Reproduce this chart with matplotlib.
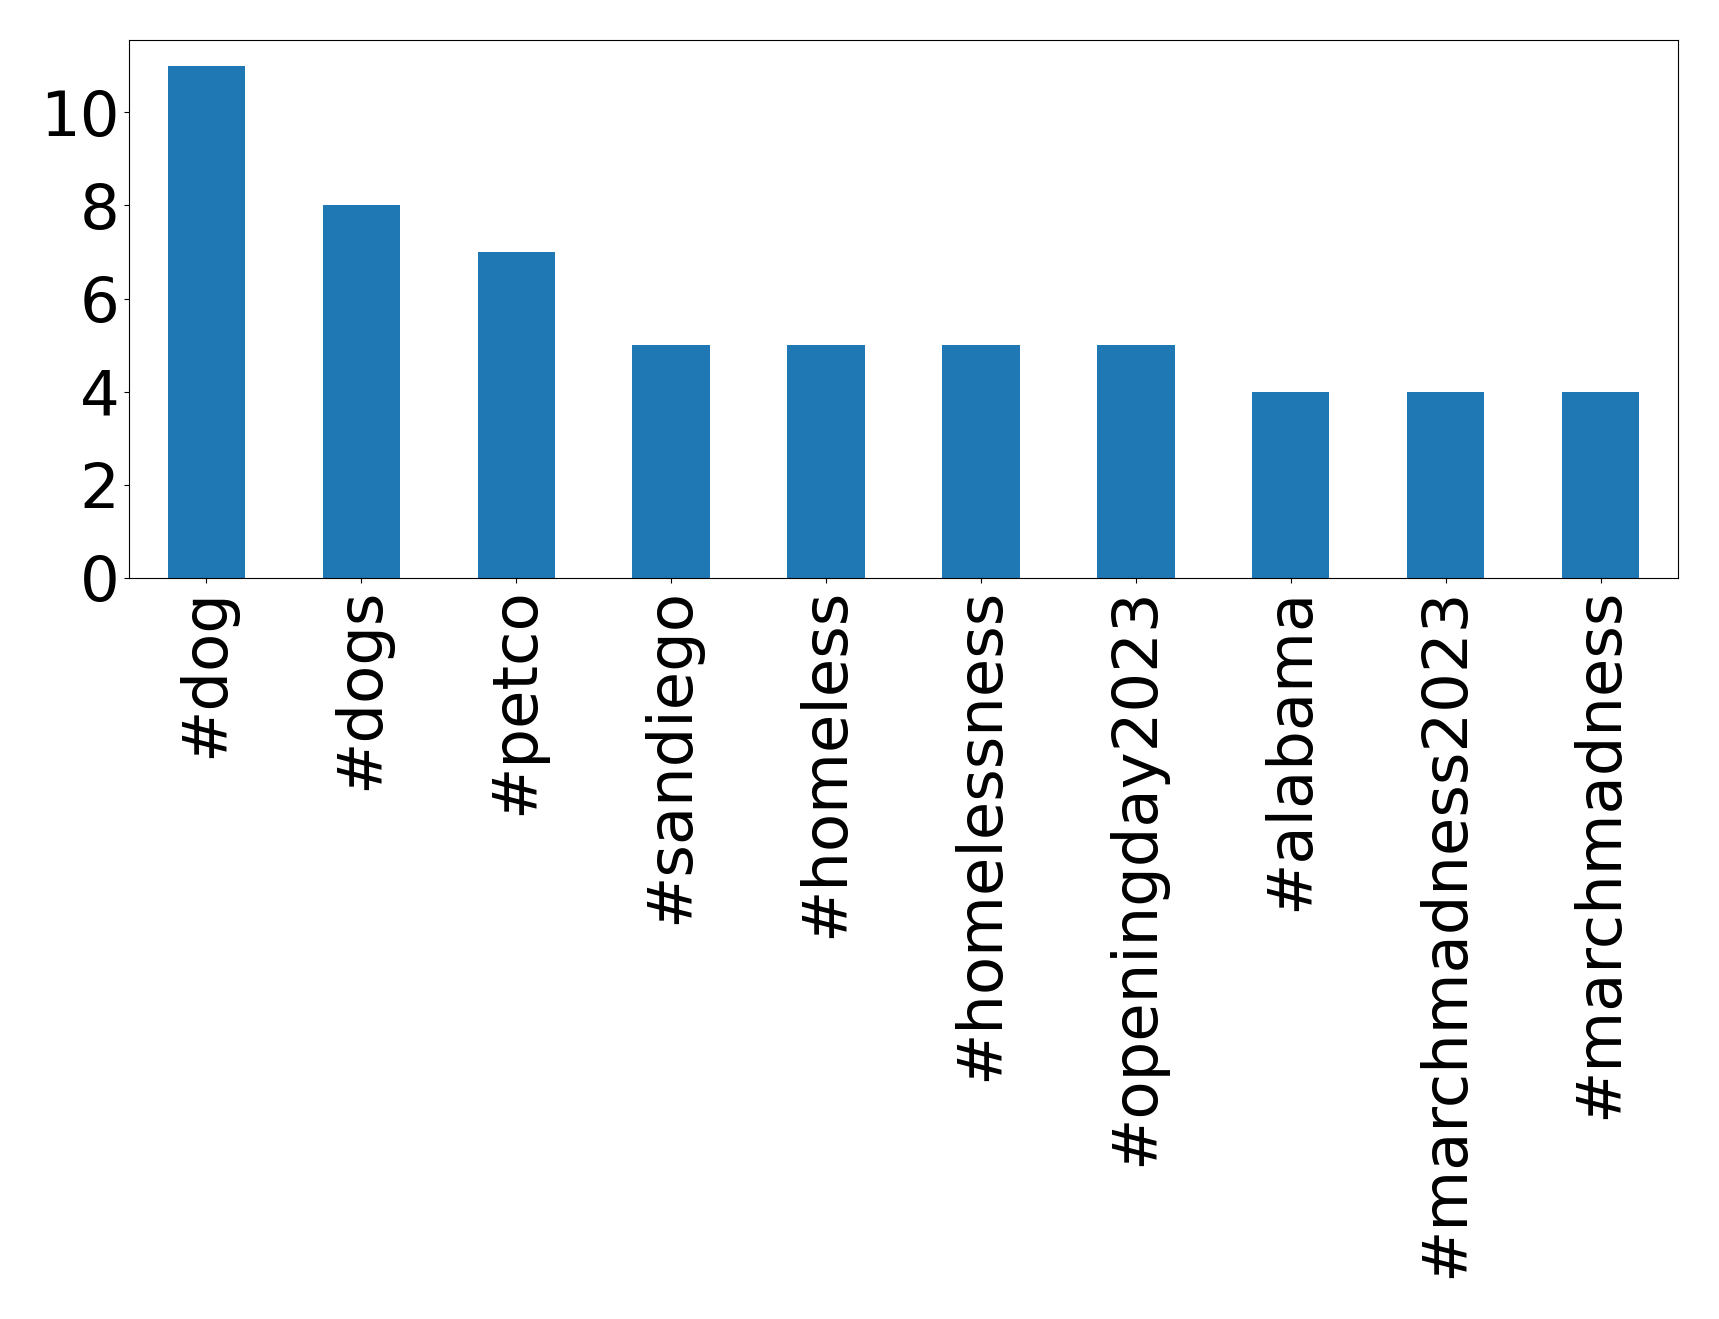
import pandas as pd
import matplotlib
matplotlib.use('Agg')
import matplotlib.pyplot as plt
from matplotlib.ticker import MultipleLocator

# hashtag counts
hashtags = ['#dog', '#dogs', '#petco', '#sandiego', '#homeless', '#homelessness',
            '#openingday2023', '#alabama', '#marchmadness2023', '#marchmadness']
counts = [11, 8, 7, 5, 5, 5, 5, 4, 4, 4]

s = pd.Series(counts, index=hashtags)

fig = plt.figure(figsize=(17.19, 13.19), dpi=100)
ax = fig.add_axes([129 / 1719, 1 - 578 / 1319, (1678 - 129) / 1719, (578 - 40) / 1319])
s.plot(kind='bar', ax=ax, color='#1f77b4')
ax.yaxis.set_major_locator(MultipleLocator(2))
ax.tick_params(axis='both', labelsize=45)
plt.xticks(rotation=90)

fig.savefig('out.png', dpi=100)
